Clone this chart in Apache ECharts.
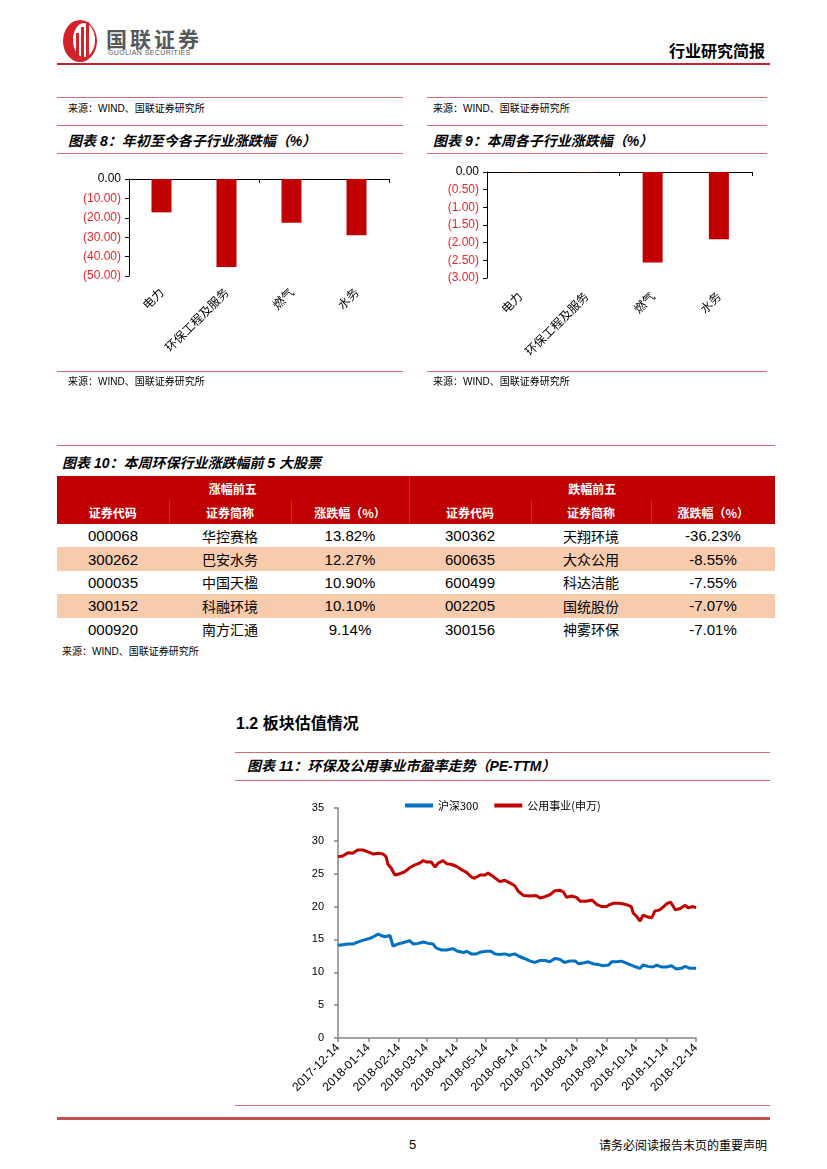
<!DOCTYPE html>
<html><head><meta charset="utf-8">
<script src="https://cdn.jsdelivr.net/npm/echarts@6/dist/echarts.min.js"></script>
<style>
body{margin:0;background:#fff;}
#page{position:relative;width:827px;height:1169px;overflow:hidden;font-family:"Liberation Sans","Noto Sans CJK SC",sans-serif;color:#000;background:#fff;}
.abs{position:absolute;white-space:nowrap;}
.hl{position:absolute;height:0;border-top:1.5px solid #cf6d77;}
.src{position:absolute;font-size:10px;line-height:12px;white-space:nowrap;font-family:"Liberation Sans","Noto Sans CJK SC",sans-serif;}
.ttl{position:absolute;font-size:14px;line-height:18px;font-weight:bold;font-style:italic;white-space:nowrap;font-family:"Liberation Sans","Noto Sans CJK SC",sans-serif;}
table.t{position:absolute;left:57px;top:476px;width:718px;border-collapse:collapse;table-layout:fixed;}
table.t td{padding:0;text-align:center;white-space:nowrap;}
table.t tr.h td{background:#c00000;color:#fff;font-weight:bold;font-size:12px;height:24px;font-family:"Noto Sans CJK SC",sans-serif;}
table.t tr.h2 td{border-left:1px solid rgba(255,255,255,0.18);}
table.t tr.h2 td:first-child{border-left:none;}
table.t tr.d td{height:23.4px;font-size:15px;}
table.t tr.d td.cn{font-size:14px;font-family:"Noto Sans CJK SC",sans-serif;}
table.t tr.alt td{background:#f8cbad;}
</style></head>
<body>
<div id="page">
  <!-- header -->
  <svg class="abs" style="left:61px;top:19px" width="40" height="44" viewBox="0 0 40 44">
    <ellipse cx="19" cy="22" rx="17" ry="21" fill="#d3222a"/>
    <ellipse cx="23" cy="21" rx="11" ry="17" fill="#fff"/>
    <rect x="15" y="14" width="3" height="26" fill="#d3222a"/>
    <rect x="20" y="8" width="3" height="32" fill="#d3222a"/>
    <rect x="25" y="3" width="3" height="37" fill="#d3222a"/>
  </svg>
  <div class="abs" style="left:106px;top:27px;font-size:21px;line-height:22px;font-weight:bold;color:#58585a;font-family:'Noto Sans CJK SC',sans-serif;letter-spacing:3px;">国联证券</div>
  <div class="abs" style="left:108px;top:49px;font-size:7px;line-height:8px;color:#58585a;letter-spacing:0.4px;">GUOLIAN SECURITIES</div>
  <div class="abs" style="right:62px;top:40px;font-size:16px;line-height:20px;font-weight:bold;font-family:'Noto Sans CJK SC',sans-serif;">行业研究简报</div>
  <div class="abs" style="left:57px;top:63px;width:713px;height:2px;background:#c0282e;"></div>

  <!-- charts 8 / 9 panels -->
  <div class="hl" style="left:57px;top:97px;width:346px;"></div>
  <div class="hl" style="left:427px;top:97px;width:340px;"></div>
  <div class="src" style="left:68px;top:103px;">来源：WIND、国联证券研究所</div>
  <div class="src" style="left:433px;top:103px;">来源：WIND、国联证券研究所</div>
  <div class="hl" style="left:57px;top:125px;width:346px;"></div>
  <div class="hl" style="left:427px;top:125px;width:340px;"></div>
  <div class="ttl" style="left:68px;top:132px;">图表 8：年初至今各子行业涨跌幅（%）</div>
  <div class="ttl" style="left:433px;top:132px;">图表 9：本周各子行业涨跌幅（%）</div>
  <div class="hl" style="left:57px;top:153px;width:346px;"></div>
  <div class="hl" style="left:427px;top:153px;width:340px;"></div>
  <div id="c8" class="abs" style="left:57px;top:155px;width:346px;height:217px;"></div>
  <div id="c9" class="abs" style="left:427px;top:155px;width:340px;height:217px;"></div>
  <div class="hl" style="left:57px;top:371px;width:346px;"></div>
  <div class="hl" style="left:427px;top:371px;width:340px;"></div>
  <div class="src" style="left:68px;top:376px;">来源：WIND、国联证券研究所</div>
  <div class="src" style="left:433px;top:376px;">来源：WIND、国联证券研究所</div>

  <!-- table 10 -->
  <div class="hl" style="left:57px;top:445px;width:718px;"></div>
  <div class="ttl" style="left:62px;top:454px;">图表 10：本周环保行业涨跌幅前 5 大股票</div>
  <table class="t" id="tbl"></table>
  <div class="src" style="left:62px;top:646px;">来源：WIND、国联证券研究所</div>

  <!-- section 1.2 -->
  <div class="abs" style="left:236px;top:712px;font-size:16px;line-height:20px;font-weight:bold;">1.2 <span style="font-family:'Noto Sans CJK SC',sans-serif;">板块估值情况</span></div>
  <div class="hl" style="left:235px;top:752px;width:535px;"></div>
  <div class="ttl" style="left:247px;top:757px;">图表 11：环保及公用事业市盈率走势（PE-TTM）</div>
  <div class="hl" style="left:235px;top:780px;width:535px;"></div>
  <div id="c11" class="abs" style="left:235px;top:782px;width:535px;height:323px;"></div>
  <div class="hl" style="left:235px;top:1105px;width:535px;"></div>
  <div class="abs" style="left:57px;top:1117px;width:713px;height:2.5px;background:#c0504d;"></div>
  <div class="abs" style="left:409px;top:1137px;font-size:13px;line-height:16px;">5</div>
  <div class="abs" style="right:60px;top:1137px;font-size:12px;line-height:16px;font-family:'Noto Sans CJK SC',sans-serif;">请务必阅读报告末页的重要声明</div>
</div>

<script>
// ---------- data ----------
const subIndustries = ['电力', '环保工程及服务', '燃气', '水务'];
const ytdChange = [-17.2, -45.4, -22.5, -29.0];       // 图表8 年初至今 (%)
const weekChange = [-0.01, -0.01, -2.56, -1.90];      // 图表9 本周 (%)
const ytdAxisTicks = [-50, -40, -30, -20, -10, 0];
const weekAxisTicks = [-3, -2.5, -2, -1.5, -1, -0.5, 0];

const tableHeaderGroups = ['涨幅前五', '跌幅前五'];
const tableHeaders = ['证券代码', '证券简称', '涨跌幅（%）', '证券代码', '证券简称', '涨跌幅（%）'];
const gainCodes = ['000068', '300262', '000035', '300152', '000920'];
const gainNames = ['华控赛格', '巴安水务', '中国天楹', '科融环境', '南方汇通'];
const gainPct = ['13.82%', '12.27%', '10.90%', '10.10%', '9.14%'];
const lossCodes = ['300362', '600635', '600499', '002205', '300156'];
const lossNames = ['天翔环境', '大众公用', '科达洁能', '国统股份', '神雾环保'];
const lossPct = ['-36.23%', '-8.55%', '-7.55%', '-7.07%', '-7.01%'];

const peStartDate = '2017-12-14';
const peEndDate = '2018-12-14';
const peTickLabels = ['2017-12-14','2018-01-14','2018-02-14','2018-03-14','2018-04-14','2018-05-14','2018-06-14','2018-07-14','2018-08-14','2018-09-14','2018-10-14','2018-11-14','2018-12-14'];
const peYTicks = [0, 5, 10, 15, 20, 25, 30, 35];
// 沪深300 PE-TTM: day offset from start, value
const hs300Days = [0,5,10,15,20,26,31,36,41,44,48,53,56,61,66,73,77,82,87,92,97,100,105,111,117,122,128,131,136,141,146,151,156,160,165,170,175,180,185,190,196,201,206,211,216,221,226,231,236,242,245,250,255,260,265,270,276,279,284,289,294,299,304,308,311,316,321,325,330,335,340,345,350,354,359,365];
const hs300PE = [14.1,14.2,14.3,14.3,14.6,14.9,15.1,15.4,15.8,15.6,15.4,15.6,14.0,14.3,14.5,14.8,14.3,14.4,14.6,14.4,14.3,13.7,13.4,13.4,13.6,13.2,13.0,13.2,12.8,12.8,13.1,13.2,13.2,12.8,12.7,12.8,12.6,12.8,12.4,12.1,11.7,11.5,11.8,11.8,11.6,12.1,12.0,11.5,11.7,11.7,11.3,11.4,11.6,11.3,11.2,11.0,11.1,11.6,11.6,11.7,11.4,11.1,10.8,10.6,11.1,10.9,10.8,11.1,10.8,10.8,11.0,10.5,10.6,10.9,10.6,10.6];
// 公用事业(申万) PE-TTM
const utilDays = [0,5,7,10,15,20,26,31,36,41,46,49,51,54,58,63,68,73,78,83,87,90,95,99,102,107,111,116,121,126,131,136,139,145,150,153,158,165,170,175,180,184,189,196,202,206,211,216,221,226,230,233,238,243,247,253,259,264,269,274,277,281,287,294,299,301,304,308,311,316,320,323,328,332,335,339,344,349,354,357,362,365];
const utilPE = [27.6,27.7,27.9,28.2,28.1,28.6,28.6,28.3,28.0,28.1,28.0,27.6,26.4,25.9,24.8,25.0,25.3,25.9,26.3,26.6,27.0,26.8,26.8,26.0,26.6,27.0,26.5,26.4,26.1,25.6,25.2,24.5,24.3,24.8,24.8,25.1,24.6,23.8,24.0,23.6,23.2,22.3,21.7,21.6,21.7,21.3,21.5,21.8,22.4,22.5,22.2,21.4,21.6,21.4,20.8,20.8,21.0,20.3,20.0,20.0,20.3,20.5,20.5,20.3,20.0,19.0,18.6,17.8,18.7,18.4,18.3,19.3,19.5,20.0,20.4,20.7,19.5,19.7,20.2,19.8,20.0,19.8];

// ---------- table ----------
(function(){
  const tbl = document.getElementById('tbl');
  const widths = [112,122,118,122,120,124];
  let html = '<colgroup>' + widths.map(w => '<col style="width:' + w + 'px">').join('') + '</colgroup>';
  html += '<tr class="h"><td colspan="3">' + tableHeaderGroups[0] + '</td><td colspan="3" style="border-left:1px solid rgba(255,255,255,0.18)">' + tableHeaderGroups[1] + '</td></tr>';
  html += '<tr class="h h2">' + tableHeaders.map(h => '<td>' + h + '</td>').join('') + '</tr>';
  for (let i = 0; i < gainCodes.length; i++) {
    html += '<tr class="d' + (i % 2 === 1 ? ' alt' : '') + '">' +
      '<td>' + gainCodes[i] + '</td><td class="cn">' + gainNames[i] + '</td><td>' + gainPct[i] + '</td>' +
      '<td>' + lossCodes[i] + '</td><td class="cn">' + lossNames[i] + '</td><td>' + lossPct[i] + '</td></tr>';
  }
  tbl.innerHTML = html;
})();

// ---------- bar charts ----------
function barOption(values, ticks, gridOpt, labelMargin) {
  const fmt = v => (v < 0 ? '(' + Math.abs(v).toFixed(2) + ')' : '0.00');
  return {
    animation: false,
    grid: gridOpt,
    xAxis: [
      { type: 'category', data: subIndustries, position: 'top',
        axisLine: { onZero: false, lineStyle: { color: '#000', width: 1 } },
        axisTick: { show: true, inside: true, length: 4, lineStyle: { color: '#000' } },
        axisLabel: { show: false } },
      { type: 'category', data: subIndustries, position: 'bottom',
        axisLine: { show: false, onZero: false }, axisTick: { show: false },
        axisLabel: { rotate: 45, margin: labelMargin, fontSize: 12, color: '#000', fontFamily: 'Noto Sans CJK SC' } }
    ],
    yAxis: {
      type: 'value', min: ticks[0], max: ticks[ticks.length - 1], interval: ticks[1] - ticks[0],
      axisLine: { show: true, lineStyle: { color: '#000' } },
      axisTick: { show: true, length: 4, lineStyle: { color: '#000' } },
      splitLine: { show: false },
      axisLabel: { formatter: fmt, fontSize: 12, fontFamily: 'Liberation Sans', margin: 8,
        color: v => (Number(v) < 0 ? '#e8262b' : '#000') }
    },
    series: [{ type: 'bar', xAxisIndex: 0, data: values, barWidth: 20, itemStyle: { color: '#c00000' } }]
  };
}
echarts.init(document.getElementById('c8')).setOption(
  barOption(ytdChange, ytdAxisTicks, { left: 72, right: 14, top: 24, bottom: 96 }, 14));
echarts.init(document.getElementById('c9')).setOption(
  barOption(weekChange, weekAxisTicks, { left: 60, right: 15, top: 17, bottom: 94 }, 16));

// ---------- line chart ----------
const dayCats = [];
(function(){
  const d = new Date(peStartDate + 'T00:00:00Z');
  const end = new Date(peEndDate + 'T00:00:00Z');
  while (d <= end) { dayCats.push(d.toISOString().slice(0, 10)); d.setUTCDate(d.getUTCDate() + 1); }
})();
const isTick = (i, v) => peTickLabels.indexOf(v) >= 0;
const c11 = echarts.init(document.getElementById('c11'));
c11.setOption({
  animation: false,
  grid: { left: 103, right: 74, top: 26, bottom: 67 },
  legend: {
    left: 165, top: 13, icon: 'rect', itemWidth: 28, itemHeight: 4, itemGap: 16,
    textStyle: { fontSize: 11, color: '#000', fontFamily: 'Noto Sans CJK SC' },
    data: ['沪深300', '公用事业(申万)']
  },
  xAxis: {
    type: 'category', data: dayCats, boundaryGap: false,
    axisLine: { onZero: false, lineStyle: { color: '#868686', width: 1.5 } },
    axisTick: { interval: isTick, length: 4, lineStyle: { color: '#868686', width: 1.5 } },
    axisLabel: { interval: isTick, rotate: 45, fontSize: 12, color: '#000', margin: 8, fontFamily: 'Liberation Sans' }
  },
  yAxis: {
    type: 'value', min: peYTicks[0], max: peYTicks[peYTicks.length - 1], interval: peYTicks[1] - peYTicks[0],
    axisLine: { show: true, lineStyle: { color: '#868686', width: 1.5 } },
    axisTick: { show: true, length: 4, lineStyle: { color: '#868686', width: 1.5 } },
    splitLine: { show: false },
    axisLabel: { fontSize: 11, color: '#000', margin: 14, fontFamily: 'Liberation Sans' }
  },
  series: [
    { name: '沪深300', type: 'line', showSymbol: false, symbol: 'none',
      data: hs300Days.map((d, i) => [d, hs300PE[i]]),
      lineStyle: { width: 3, color: '#0070c0' }, itemStyle: { color: '#0070c0' } },
    { name: '公用事业(申万)', type: 'line', showSymbol: false, symbol: 'none',
      data: utilDays.map((d, i) => [d, utilPE[i]]),
      lineStyle: { width: 3, color: '#c00000' }, itemStyle: { color: '#c00000' } }
  ]
});
</script>
</body></html>
